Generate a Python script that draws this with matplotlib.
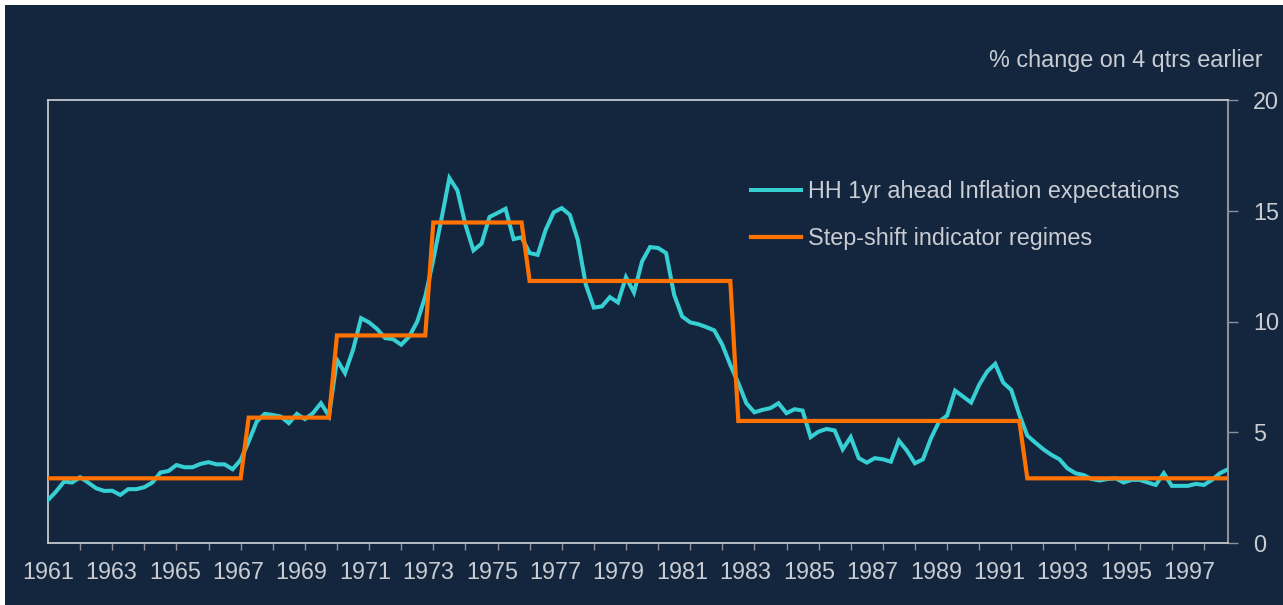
import numpy as np
import matplotlib
matplotlib.use("Agg")
import matplotlib.pyplot as plt
from matplotlib.patches import Rectangle

# ---------------- data ----------------
# HH 1yr ahead inflation expectations, quarterly from 1961Q1 (148 quarters)
hh_expectations = [
    1.94, 2.32, 2.77, 2.73, 2.97, 2.73, 2.47, 2.35, 2.36, 2.17,
    2.43, 2.43, 2.52, 2.73, 3.18, 3.25, 3.52, 3.42, 3.42, 3.57,
    3.65, 3.55, 3.55, 3.33, 3.75, 4.58, 5.48, 5.83, 5.78, 5.71,
    5.41, 5.83, 5.59, 5.86, 6.31, 5.74, 8.27, 7.67, 8.72, 10.15,
    9.96, 9.66, 9.25, 9.20, 8.95, 9.32, 10.00, 11.13, 12.79, 14.60,
    16.48, 15.92, 14.37, 13.21, 13.51, 14.72, 14.90, 15.09, 13.72, 13.80,
    13.09, 13.01, 14.14, 14.93, 15.12, 14.82, 13.69, 11.66, 10.63, 10.68,
    11.10, 10.86, 12.00, 11.31, 12.71, 13.36, 13.32, 13.09, 11.21, 10.23,
    9.96, 9.88, 9.75, 9.60, 8.95, 8.04, 7.22, 6.31, 5.90, 6.01,
    6.09, 6.31, 5.86, 6.04, 5.98, 4.78, 5.03, 5.15, 5.08, 4.23,
    4.78, 3.83, 3.63, 3.83, 3.78, 3.67, 4.62, 4.17, 3.60, 3.78,
    4.73, 5.48, 5.75, 6.88, 6.61, 6.34, 7.14, 7.74, 8.09, 7.24,
    6.91, 5.80, 4.85, 4.53, 4.23, 3.98, 3.78, 3.37, 3.15, 3.07,
    2.89, 2.82, 2.89, 2.92, 2.73, 2.85, 2.85, 2.73, 2.62, 3.15,
    2.58, 2.58, 2.58, 2.67, 2.62, 2.85, 3.15, 3.33,
]

# Step-shift indicator regimes: level and number of quarters in each regime
regime_levels = [2.92, 5.66, 9.37, 14.47, 11.83, 5.51, 2.92]
regime_quarters = [25, 11, 12, 12, 26, 36, 26]

year_labels = [str(y) for y in range(1961, 1998, 2)]
y_ticks = [0, 5, 10, 15, 20]

series_names = ["HH 1yr ahead Inflation expectations", "Step-shift indicator regimes"]
unit_label = "% change on 4 qtrs earlier"

# ---------------- style ----------------
BG = "#13263e"
TXT = "#c9cdd3"
SPINE_LIGHT = "#c3c7ce"
SPINE_DARK = "#8d9197"
CYAN = "#36cfd4"
ORANGE = "#ff7200"
FS = 16.8

plt.rcParams["font.family"] = ["Liberation Sans", "DejaVu Sans"]

W, H = 1283, 605
fig = plt.figure(figsize=(W / 100, H / 100), dpi=100, facecolor="white")
fig.patches.append(Rectangle((5 / W, 0), 1 - 5 / W, 1 - 5 / H, transform=fig.transFigure,
                             facecolor=BG, edgecolor="none", zorder=-10))

ax = fig.add_axes([48 / W, 1 - 543 / H, (1228 - 48) / W, (543 - 100) / H])
ax.set_facecolor(BG)

hh = np.array(hh_expectations)
steps = np.repeat(regime_levels, regime_quarters)
q = np.arange(len(hh))

ax.plot(q, hh, color=CYAN, lw=2.9, solid_joinstyle="miter", zorder=3,
        label=series_names[0])
ax.plot(np.arange(len(steps)), steps, color=ORANGE, lw=3.0, solid_joinstyle="miter",
        zorder=4, label=series_names[1])

ax.set_xlim(0, len(hh) - 1)
ax.set_ylim(0, 20)

# x axis: tick marks every 4 quarters, labels every 2 years
ax.set_xticks(np.arange(0, len(hh) - 2, 4), minor=True)
ax.set_xticks(np.arange(len(year_labels)) * 7.9)
ax.set_xticklabels(year_labels)
ax.tick_params(axis="x", which="major", length=0, pad=13, labelsize=FS, labelcolor=TXT)
ax.tick_params(axis="x", which="minor", length=5, width=1, color=SPINE_DARK, direction="out")

# y axis on the right
ax.yaxis.tick_right()
ax.set_yticks(y_ticks)
ax.tick_params(axis="y", which="major", length=7, width=1, color=SPINE_DARK,
               pad=11, labelsize=FS, labelcolor=TXT)

for side in ["left", "top", "bottom"]:
    ax.spines[side].set_color(SPINE_LIGHT)
    ax.spines[side].set_linewidth(1.3)
ax.spines["right"].set_color(SPINE_DARK)
ax.spines["right"].set_linewidth(1.5)

fig.text(1263 / W, 1 - 61 / H, unit_label, ha="right", va="center",
         fontsize=FS, color=TXT)

leg = ax.legend(loc="upper left", bbox_to_anchor=(751 / W, 1 - 180 / H),
                bbox_transform=fig.transFigure, frameon=False, fontsize=FS,
                handlelength=2.15, handletextpad=0.3, labelspacing=1.05,
                borderpad=0, borderaxespad=0)
for t in leg.get_texts():
    t.set_color(TXT)

fig.savefig("out.png", dpi=100, facecolor=fig.get_facecolor())
